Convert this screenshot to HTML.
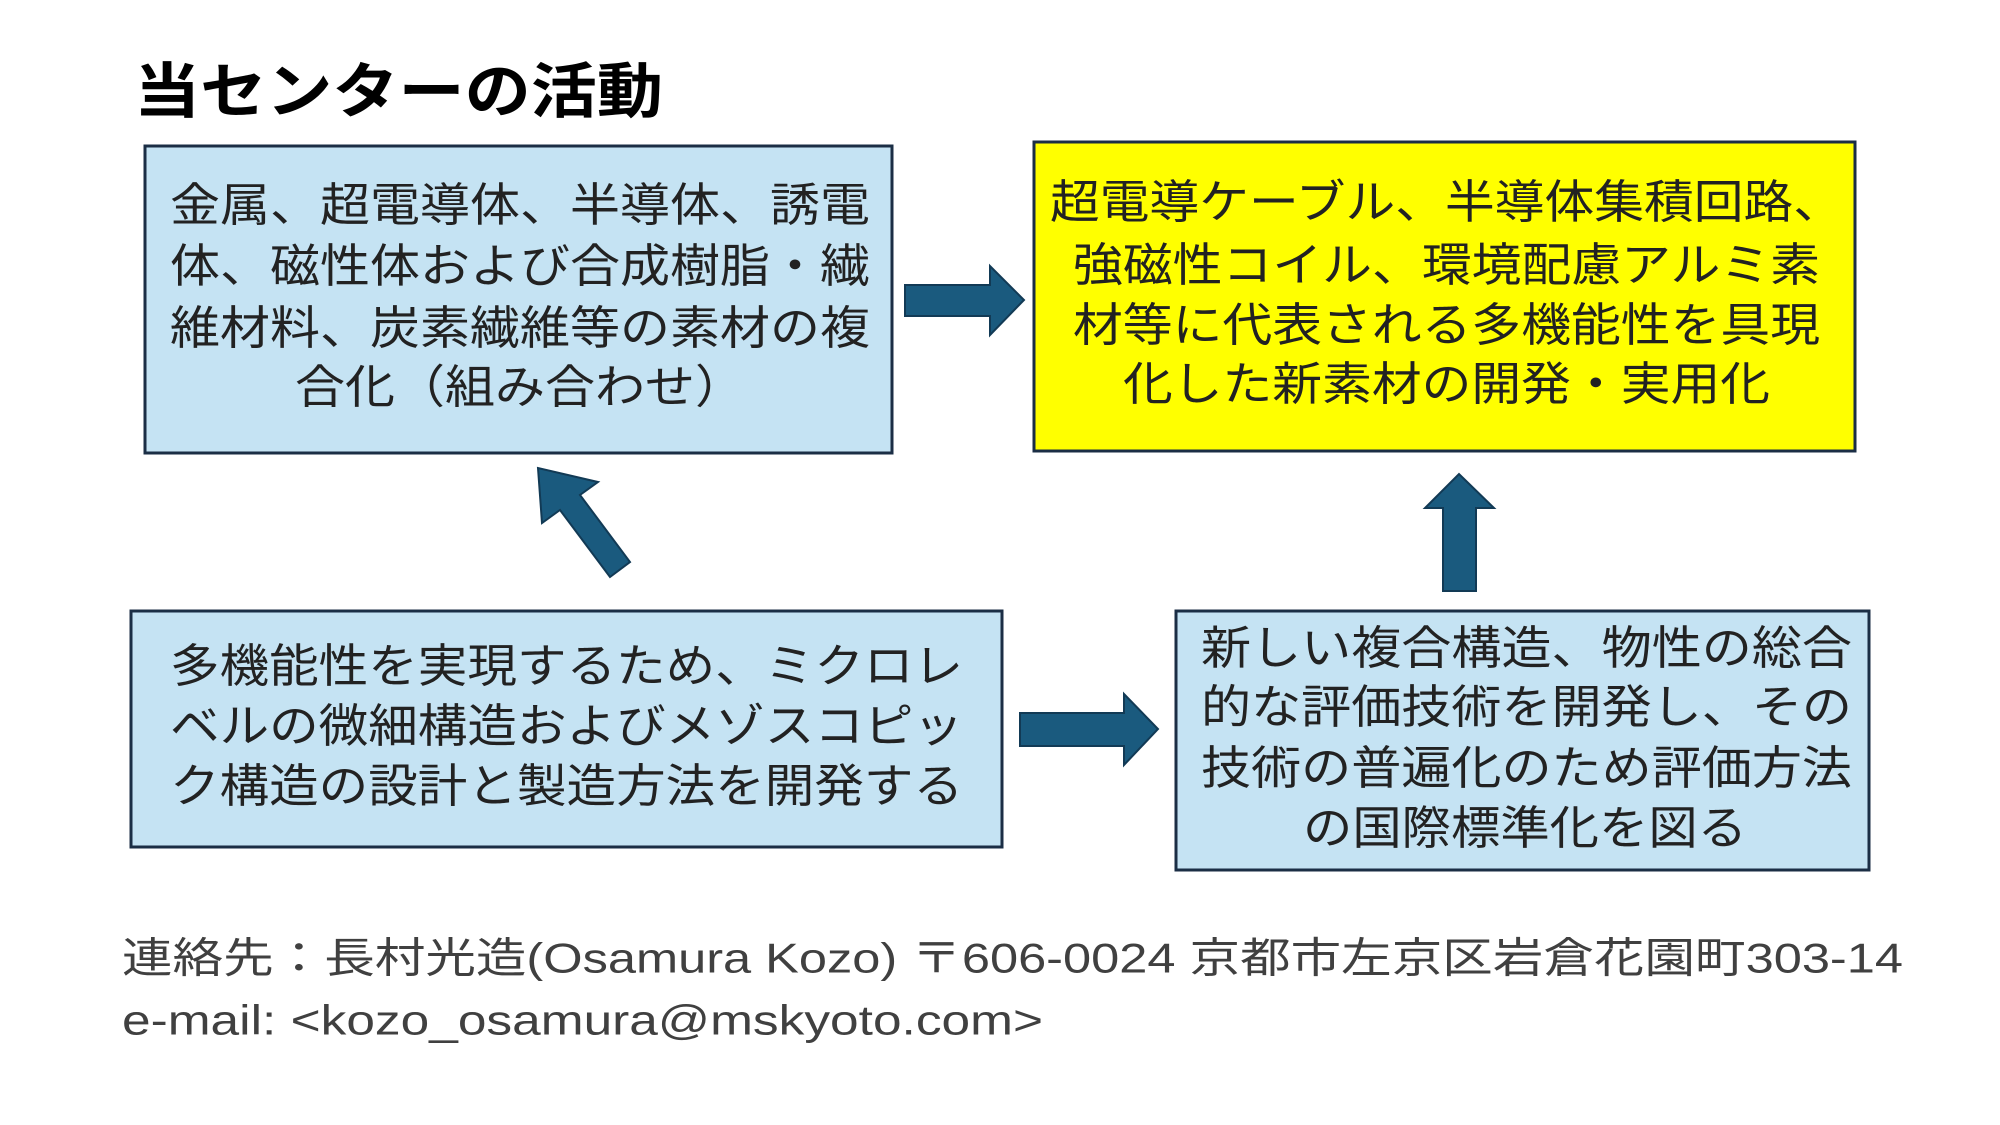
<!DOCTYPE html>
<html><head><meta charset="utf-8"><style>
html,body{margin:0;padding:0;background:#fff;}
svg{display:block;}
text{font-family:"Liberation Sans","Noto Sans CJK JP",sans-serif;}
.b{font-size:46px;fill:#222;}
</style></head><body>
<svg width="2000" height="1125" viewBox="0 0 2000 1125" xmlns="http://www.w3.org/2000/svg">
<text x="134" y="92" dominant-baseline="central" font-size="60" font-weight="bold" fill="#000" textLength="529" lengthAdjust="spacingAndGlyphs">当センターの活動</text>

<rect x="145" y="146" width="747" height="307" fill="#C5E3F3" stroke="#1B2E45" stroke-width="3"/>
<g class="b" dominant-baseline="central">
<text x="170" y="205" textLength="700" lengthAdjust="spacingAndGlyphs">金属、超電導体、半導体、誘電</text>
<text x="170" y="266" textLength="700" lengthAdjust="spacingAndGlyphs">体、磁性体および合成樹脂・繊</text>
<text x="170" y="328" textLength="700" lengthAdjust="spacingAndGlyphs">維材料、炭素繊維等の素材の複</text>
<text x="295" y="387" textLength="450" lengthAdjust="spacingAndGlyphs">合化（組み合わせ）</text>
</g>

<rect x="1034" y="142" width="821" height="309" fill="#FFFF00" stroke="#1B2E45" stroke-width="3"/>
<g class="b" dominant-baseline="central">
<text x="1050" y="202" textLength="793" lengthAdjust="spacingAndGlyphs">超電導ケーブル、半導体集積回路、</text>
<text x="1073" y="265" textLength="747" lengthAdjust="spacingAndGlyphs">強磁性コイル、環境配慮アルミ素</text>
<text x="1073" y="325" textLength="747" lengthAdjust="spacingAndGlyphs">材等に代表される多機能性を具現</text>
<text x="1123" y="384" textLength="647" lengthAdjust="spacingAndGlyphs">化した新素材の開発・実用化</text>
</g>

<rect x="131" y="611" width="871" height="236" fill="#C5E3F3" stroke="#1B2E45" stroke-width="3"/>
<g class="b" dominant-baseline="central">
<text x="170" y="666" textLength="793" lengthAdjust="spacingAndGlyphs">多機能性を実現するため、ミクロレ</text>
<text x="170" y="726" textLength="793" lengthAdjust="spacingAndGlyphs">ベルの微細構造およびメゾスコピッ</text>
<text x="170" y="786" textLength="793" lengthAdjust="spacingAndGlyphs">ク構造の設計と製造方法を開発する</text>
</g>

<rect x="1176" y="611" width="693" height="259" fill="#C5E3F3" stroke="#1B2E45" stroke-width="3"/>
<g class="b" dominant-baseline="central">
<text x="1201" y="648" textLength="651" lengthAdjust="spacingAndGlyphs">新しい複合構造、物性の総合</text>
<text x="1201" y="707" textLength="651" lengthAdjust="spacingAndGlyphs">的な評価技術を開発し、その</text>
<text x="1201" y="768" textLength="651" lengthAdjust="spacingAndGlyphs">技術の普遍化のため評価方法</text>
<text x="1303" y="828" textLength="444" lengthAdjust="spacingAndGlyphs">の国際標準化を図る</text>
</g>

<g fill="#1A5A7E" stroke="#123A55" stroke-width="2">
<polygon points="905,285 990,285 990,266 1024,300 990,335 990,316 905,316"/>
<polygon points="1020,713 1124,713 1124,694 1158,729 1124,765 1124,746 1020,746"/>
<polygon points="1443,591 1443,508 1425,508 1459,474 1494,508 1476,508 1476,591"/>
<polygon points="538,468 542,523 560,510 610,577 630,562 580,495 598,482"/>
</g>

<g fill="#404040" font-size="42" dominant-baseline="central">
<text x="122" y="958" textLength="1781" lengthAdjust="spacingAndGlyphs">連絡先：長村光造(Osamura Kozo) 〒606-0024 京都市左京区岩倉花園町303-14</text>
<text x="122" y="1020" textLength="921" lengthAdjust="spacingAndGlyphs">e-mail: &lt;kozo_osamura@mskyoto.com&gt;</text>
</g>
</svg>
</body></html>
